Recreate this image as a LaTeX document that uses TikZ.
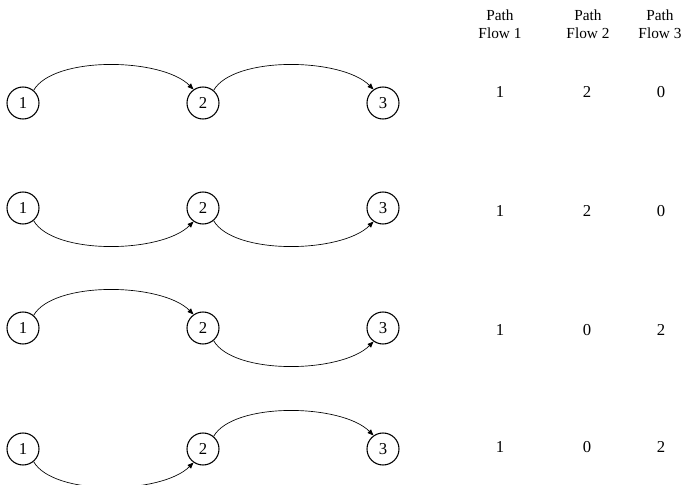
\documentclass[tikz,border=0pt]{standalone}
\usepackage{fontspec}
\setmainfont{Liberation Serif}
\usetikzlibrary{arrows.meta}
\begin{document}
\begin{tikzpicture}[x=0.75pt,y=0.75pt,
  vert/.style={circle,draw,line width=0.8pt,minimum size=24pt,inner sep=0pt,font=\fontsize{12.5}{14}\selectfont},
  arc/.style={line width=0.5pt,-{Triangle[length=4.5pt,width=3.6pt]}},
  lbl/.style={font=\fontsize{12.5}{14}\selectfont,inner sep=0pt},
  hdr/.style={font=\fontsize{11.5}{13.5}\selectfont,align=center,inner sep=0pt}]
\useasboundingbox (0,0) rectangle (686,-485);
% headers
\node[hdr] (h1) at (500,-24) {Path\\Flow 1};
\node[hdr] (h2) at (588,-24) {Path\\Flow 2};
\node[hdr] (h3) at (660,-24) {Path\\Flow 3};
% row 1
\node[vert] (a1) at (23,-103) {1};
\node[vert] (a2) at (203,-103) {2};
\node[vert] (a3) at (383,-103) {3};
\draw[arc] (a1.50) .. controls +(60:40) and +(135:45) .. (a2.125);
\draw[arc] (a2.50) .. controls +(60:40) and +(135:45) .. (a3.125);
\node[lbl] (a4) at (500,-92) {1};
\node[lbl] (a5) at (587,-92) {2};
\node[lbl] (a6) at (661,-92) {0};
% row 2
\node[vert] (b1) at (23,-208) {1};
\node[vert] (b2) at (203,-208) {2};
\node[vert] (b3) at (383,-208) {3};
\draw[arc] (b1.-50) .. controls +(-60:40) and +(-135:45) .. (b2.-125);
\draw[arc] (b2.-50) .. controls +(-60:40) and +(-135:45) .. (b3.-125);
\node[lbl] (b4) at (500,-211) {1};
\node[lbl] (b5) at (587,-211) {2};
\node[lbl] (b6) at (661,-211) {0};
% row 3
\node[vert] (c1) at (23,-328) {1};
\node[vert] (c2) at (203,-328) {2};
\node[vert] (c3) at (383,-328) {3};
\draw[arc] (c1.50) .. controls +(60:40) and +(135:45) .. (c2.125);
\draw[arc] (c2.-50) .. controls +(-60:40) and +(-135:45) .. (c3.-125);
\node[lbl] (c4) at (500,-330) {1};
\node[lbl] (c5) at (587,-330) {0};
\node[lbl] (c6) at (661,-330) {2};
% row 4
\node[vert] (d1) at (23,-449) {1};
\node[vert] (d2) at (203,-449) {2};
\node[vert] (d3) at (383,-449) {3};
\draw[arc] (d1.-50) .. controls +(-60:40) and +(-135:45) .. (d2.-125);
\draw[arc] (d2.50) .. controls +(60:40) and +(135:45) .. (d3.125);
\node[lbl] (d4) at (500,-447) {1};
\node[lbl] (d5) at (587,-447) {0};
\node[lbl] (d6) at (661,-447) {2};
\end{tikzpicture}
\end{document}
